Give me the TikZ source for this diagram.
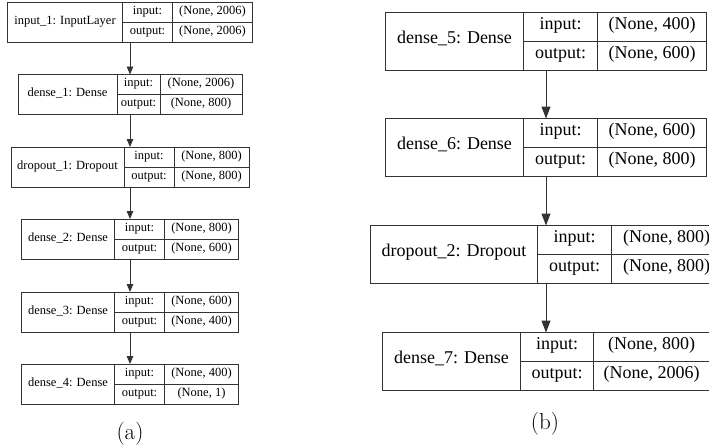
\documentclass[tikz,border=0pt]{standalone}
\usepackage{fontspec}
\newfontfamily\tnr{Liberation Serif}
\usetikzlibrary{arrows.meta}

\begin{document}
\begin{tikzpicture}[x=1pt, y=-1pt,
    rule/.style = {draw=black!80, line width=0.8pt},
    layer/.style = {rule, shape=rectangle, inner sep=0pt, outer sep=0pt},
    cell/.style = {inner sep=0pt, text height=0.7em, text depth=0.22em},
    caption/.style = {inner sep=0pt, font=\fontsize{23}{23}\selectfont}]
    \clip (0,0) rectangle (709,447);

    % (a)
    \begin{scope}[cell/.append style = {font=\tnr\fontsize{12.5}{12.5}\selectfont},
        arr/.style = {rule, -{Triangle[length=8pt,width=6.5pt]}}]
        \def\cx{130}
        \def\H{40}
        \foreach \nm/\lbl/\cy/\wa/\wb/\wc/\vin/\vout in {
            in1/{input\_1: InputLayer}/22.5/115/50/80/{(None, 2006)}/{(None, 2006)},
            d1/{dense\_1: Dense}/94.5/99/43/82/{(None, 2006)}/{(None, 800)},
            dr1/{dropout\_1: Dropout}/167/113/50/75/{(None, 800)}/{(None, 800)},
            d2/{dense\_2: Dense}/239/93/50/74/{(None, 800)}/{(None, 600)},
            d3/{dense\_3: Dense}/312/93/50/74/{(None, 600)}/{(None, 400)},
            d4/{dense\_4: Dense}/384/93/50/74/{(None, 400)}/{(None, 1)}} {
            \pgfmathsetmacro\W{\wa+\wb+\wc}
            \node[layer, minimum width=\W, minimum height=\H] (\nm) at (\cx,\cy) {};
            \draw[rule] ([xshift=\wa]\nm.north west) -- ([xshift=\wa]\nm.south west);
            \draw[rule] ([xshift=\wa+\wb]\nm.north west) -- ([xshift=\wa+\wb]\nm.south west);
            \draw[rule] ([xshift=\wa]\nm.west) -- (\nm.east);
            \node[cell] at ([xshift=\wa/2]\nm.west) {\lbl};
            \node[cell] at ([xshift=\wa+\wb/2, yshift=\H/4]\nm.west) {input:};
            \node[cell] at ([xshift=\wa+\wb/2, yshift=-\H/4]\nm.west) {output:};
            \node[cell] at ([xshift=\wa+\wb+\wc/2, yshift=\H/4]\nm.west) {\vin};
            \node[cell] at ([xshift=\wa+\wb+\wc/2, yshift=-\H/4]\nm.west) {\vout};
        }

        \draw[arr] (in1) -- (d1);
        \draw[arr] (d1) -- (dr1);
        \draw[arr] (dr1) -- (d2);
        \draw[arr] (d2) -- (d3);
        \draw[arr] (d3) -- (d4);

        \node[caption] (capa) at (130,434) {(a)};
    \end{scope}

    % (b)
    \begin{scope}[rule/.append style = {line width=1pt},
        cell/.append style = {font=\tnr\fontsize{18}{18}\selectfont},
        arr/.style = {rule, -{Triangle[length=12pt,width=9pt]}}]
        \def\cx{546}
        \def\H{58}
        \foreach \nm/\lbl/\cy/\wa/\wb/\wc/\vin/\vout in {
            d5/{dense\_5: Dense}/41.5/138/74/109/{(None, 400)}/{(None, 600)},
            d6/{dense\_6: Dense}/147.5/138/74/109/{(None, 600)}/{(None, 800)},
            dr2/{dropout\_2: Dropout}/254.5/167/74/110/{(None, 800)}/{(None, 800)},
            d7/{dense\_7: Dense}/361.5/138/73/116/{(None, 800)}/{(None, 2006)}} {
            \pgfmathsetmacro\W{\wa+\wb+\wc}
            \node[layer, minimum width=\W, minimum height=\H] (\nm) at (\cx,\cy) {};
            \draw[rule] ([xshift=\wa]\nm.north west) -- ([xshift=\wa]\nm.south west);
            \draw[rule] ([xshift=\wa+\wb]\nm.north west) -- ([xshift=\wa+\wb]\nm.south west);
            \draw[rule] ([xshift=\wa]\nm.west) -- (\nm.east);
            \node[cell] at ([xshift=\wa/2]\nm.west) {\lbl};
            \node[cell] at ([xshift=\wa+\wb/2, yshift=\H/4]\nm.west) {input:};
            \node[cell] at ([xshift=\wa+\wb/2, yshift=-\H/4]\nm.west) {output:};
            \node[cell] at ([xshift=\wa+\wb+\wc/2, yshift=\H/4]\nm.west) {\vin};
            \node[cell] at ([xshift=\wa+\wb+\wc/2, yshift=-\H/4]\nm.west) {\vout};
        }

        \draw[arr] (d5) -- (d6);
        \draw[arr] (d6) -- (dr2);
        \draw[arr] (dr2) -- (d7);

        \node[caption] (capb) at (545,424) {(b)};
    \end{scope}
\end{tikzpicture}
\end{document}
